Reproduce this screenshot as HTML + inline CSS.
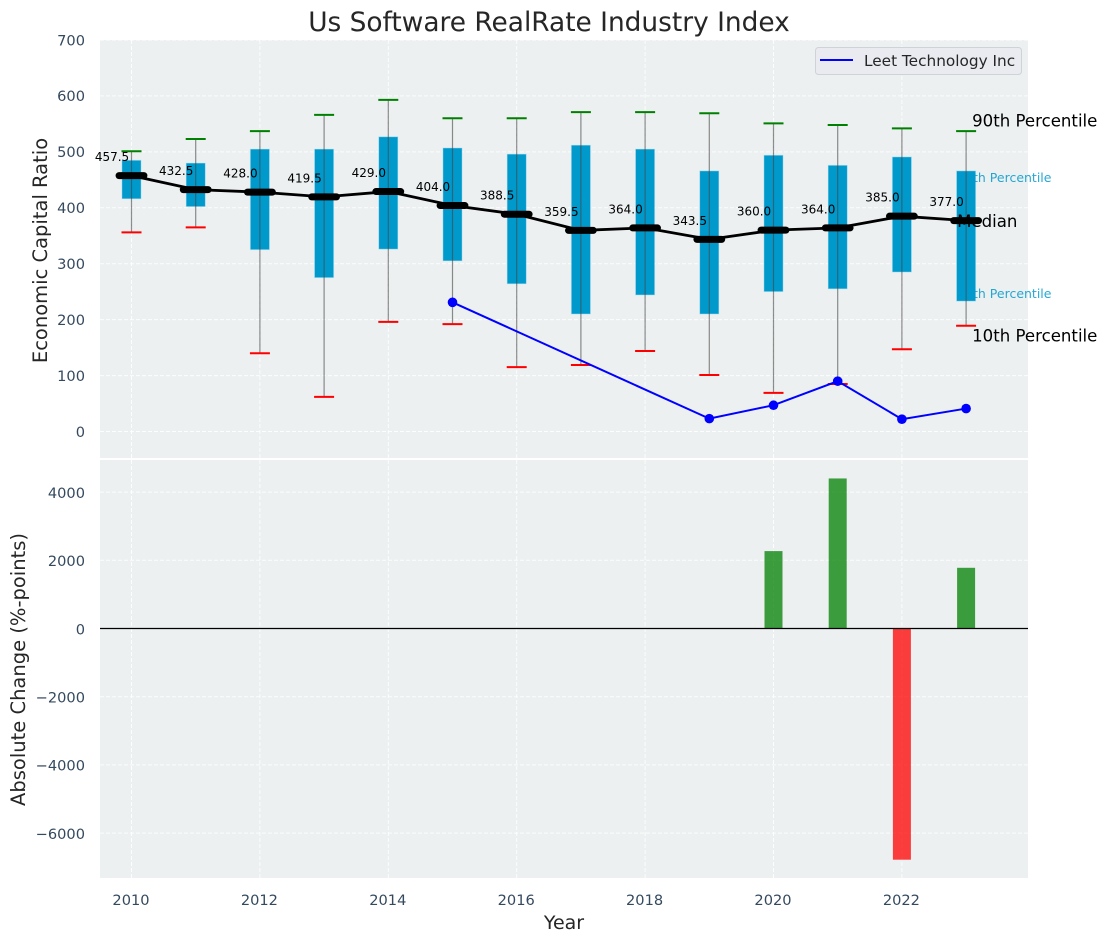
<!DOCTYPE html>
<html lang="en">
<head>
<meta charset="utf-8">
<title>Us Software RealRate Industry Index</title>
<style>
html,body{margin:0;padding:0;background:#fff;}
svg{display:block;font-family:"DejaVu Sans","Liberation Sans",sans-serif;}
</style>
</head>
<body>
<svg id="chart" xmlns="http://www.w3.org/2000/svg" width="1107" height="942" viewBox="0 0 1107 942"></svg>
<script>
const years = [2010,2011,2012,2013,2014,2015,2016,2017,2018,2019,2020,2021,2022,2023];
const medians = [457.5,432.5,428.0,419.5,429.0,404.0,388.5,359.5,364.0,343.5,360.0,364.0,385.0,377.0];
const p75 = [485,480,505,505,527,507,496,512,505,466,494,476,491,466];
const p25 = [416,402,325,275,326,305,264,210,244,210,250,255,285,233];
const p90 = [501,523,537,566,593,560,560,571,571,569,551,548,542,537];
const p10 = [356,365,140,62,196,192,115,119,144,101,69,85,147,189];
const companyYears = [2015,2019,2020,2021,2022,2023];
const companyValues = [231,23,47,90,22,41];
const changeYears = [2020,2021,2022,2023];
const changeValues = [2270,4400,-6780,1780];
const topTicks = [0,100,200,300,400,500,600,700];
const bottomTicks = [-6000,-4000,-2000,0,2000,4000];
const xTicks = [2010,2012,2014,2016,2018,2020,2022];

const svg = document.getElementById('chart');
const NS = 'http://www.w3.org/2000/svg';
function X(year){ return 131.5 + (year - 2010) * 64.2; }
function Y1(v){ return 431.5 - v * 0.5593; }
function Y2(v){ return 628.5 - v * 0.0341; }
function make(tag, attrs, parent){
  const el = document.createElementNS(NS, tag);
  for (const k in attrs) el.setAttribute(k, attrs[k]);
  (parent || svg).appendChild(el);
  return el;
}
const L = 100, R = 1028;
const TICK_SIZE = 14.6;

// plot backgrounds
let el = make('rect', {x:L, y:40, width:R-L, height:418, fill:'#ecf0f1'});


el = make('rect', {x:L, y:460, width:R-L, height:418, fill:'#ecf0f1'});



// grid
const gridStyle = {stroke:'#fff', 'stroke-width':1, 'stroke-dasharray':'4 2', 'stroke-opacity':0.85};
topTicks.forEach(t => {
  const g = make('line', Object.assign({x1:L, x2:R, y1:Y1(t), y2:Y1(t)}, gridStyle));
  
  
  const lab = make('text', {x:85, y:Y1(t)+5.3, 'text-anchor':'end', 'font-size':TICK_SIZE, fill:'#34495e'});
  lab.textContent = String(t);
  
  
});
bottomTicks.forEach(t => {
  const g = make('line', Object.assign({x1:L, x2:R, y1:Y2(t), y2:Y2(t)}, gridStyle));
  
  
  const lab = make('text', {x:85, y:Y2(t)+5.8, 'text-anchor':'end', 'font-size':TICK_SIZE, fill:'#34495e'});
  lab.textContent = String(t).replace('-', '\u2212');
  
  
});
xTicks.forEach(t => {
  const g1 = make('line', Object.assign({x1:X(t), x2:X(t), y1:40, y2:458}, gridStyle));
  
  
  const g2 = make('line', Object.assign({x1:X(t), x2:X(t), y1:460, y2:878}, gridStyle));
  
  
  const lab = make('text', {x:X(t)-0.5, y:905, 'text-anchor':'middle', 'font-size':TICK_SIZE, fill:'#34495e'});
  lab.textContent = String(t);
  
  
});

// boxes
years.forEach((yr, i) => {
  const x = X(yr);
  const box = make('rect', {x:x-9.6, y:Y1(p75[i]), width:19.2, height:Y1(p25[i])-Y1(p75[i]), fill:'#0099cc', stroke:'#bfe5f2', 'stroke-opacity':0.6, 'stroke-width':0.8});
  
  
});

// percentile annotations for the final year
const last = years.length - 1;
const lastX = X(years[last]);
el = make('text', {x:lastX+6, y:Y1(p90[last])-4.5, 'font-size':16.6, fill:'#000'});
el.textContent = '90th Percentile';


el = make('text', {x:lastX-9, y:Y1(p75[last])+11, 'font-size':12.5, fill:'#0099cc', 'fill-opacity':0.85});
el.textContent = '75th Percentile';


el = make('text', {x:lastX-9, y:Y1(medians[last])+6.5, 'font-size':16.6, fill:'#000'});
el.textContent = 'Median';


el = make('text', {x:lastX-9, y:Y1(p25[last])-3, 'font-size':12.5, fill:'#0099cc', 'fill-opacity':0.85});
el.textContent = '25th Percentile';


el = make('text', {x:lastX+6, y:Y1(p10[last])+15.5, 'font-size':16.6, fill:'#000'});
el.textContent = '10th Percentile';



// whiskers, caps
years.forEach((yr, i) => {
  const x = X(yr);
  const whisker = make('line', {x1:x, x2:x, y1:Y1(p90[i]), y2:Y1(p10[i]), stroke:'#444', 'stroke-opacity':0.6, 'stroke-width':1.2});
  
  
  const capHi = make('line', {x1:x-10, x2:x+10, y1:Y1(p90[i]), y2:Y1(p90[i]), stroke:'green', 'stroke-width':2});
  
  
  const capLo = make('line', {x1:x-10, x2:x+10, y1:Y1(p10[i]), y2:Y1(p10[i]), stroke:'red', 'stroke-width':2});
  
  
});

// median trend
el = make('polyline', {points:years.map((yr,i)=>X(yr)+','+Y1(medians[i])).join(' '), fill:'none', stroke:'#000', 'stroke-width':2.8});


years.forEach((yr, i) => {
  const x = X(yr), y = Y1(medians[i]);
  const m = make('line', {x1:x-12.4, x2:x+12.4, y1:y, y2:y, stroke:'#000', 'stroke-width':7, 'stroke-linecap':'round'});
  
  
  const t = make('text', {x:x-19.5, y:y-14.5, 'text-anchor':'middle', 'font-size':12, fill:'#000'});
  t.textContent = medians[i].toFixed(1);
  
  
});

// company series
el = make('polyline', {points:companyYears.map((yr,i)=>X(yr)+','+Y1(companyValues[i])).join(' '), fill:'none', stroke:'#0000ff', 'stroke-width':2});


companyYears.forEach((yr, i) => {
  const c = make('circle', {cx:X(yr), cy:Y1(companyValues[i]), r:4.8, fill:'#0000ff'});
  
  
});

// change bars
changeYears.forEach((yr, i) => {
  const v = changeValues[i];
  const b = make('rect', {x:X(yr)-9, y:Math.min(Y2(v),Y2(0)), width:18, height:Math.abs(Y2(v)-Y2(0)), fill:v>=0?'green':'red', 'fill-opacity':0.75});
  
  
});
el = make('line', {x1:L, x2:R, y1:Y2(0), y2:Y2(0), stroke:'#000', 'stroke-width':1.2});



// legend
el = make('rect', {x:815.5, y:47.5, width:206, height:27, rx:3, fill:'#e9ebf1', stroke:'#cfd2d6', 'stroke-width':1});


el = make('line', {x1:820, x2:853, y1:60, y2:60, stroke:'#0000ff', 'stroke-width':2});


el = make('text', {x:864, y:66, 'font-size':15.3, fill:'#262626'});
el.textContent = 'Leet Technology Inc';



// titles
el = make('text', {x:549, y:31, 'text-anchor':'middle', 'font-size':26.4, fill:'#262626'});
el.textContent = 'Us Software RealRate Industry Index';


el = make('text', {x:564, y:929, 'text-anchor':'middle', 'font-size':19, fill:'#262626'});
el.textContent = 'Year';


el = make('text', {transform:'translate(47,250.5) rotate(-90)', 'text-anchor':'middle', 'font-size':19.5, fill:'#262626'});
el.textContent = 'Economic Capital Ratio';


el = make('text', {transform:'translate(25,669.5) rotate(-90)', 'text-anchor':'middle', 'font-size':19.5, fill:'#262626'});
el.textContent = 'Absolute Change (%-points)';


</script>
</body>
</html>
